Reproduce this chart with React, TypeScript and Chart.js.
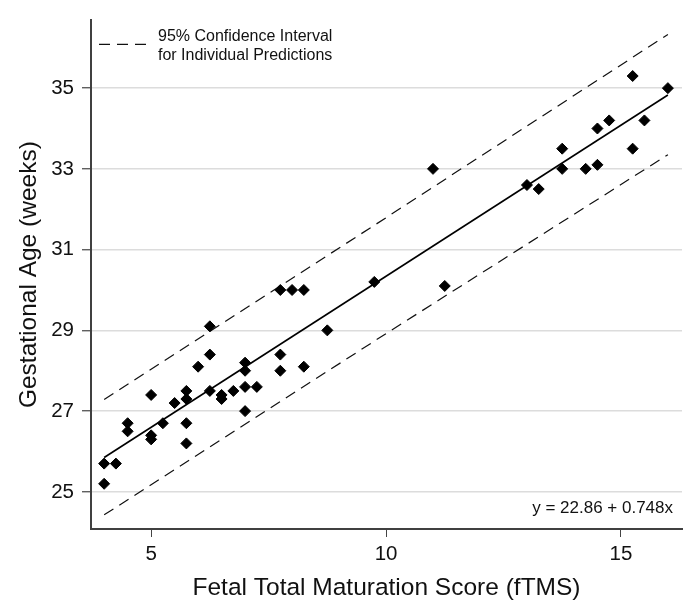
import React, { useEffect, useRef } from "react";
import { Chart, registerables } from "chart.js";

Chart.register(...registerables);

// Observed data: fetal total maturation score vs gestational age
const fTMS: number[] = [
  4.0, 4.0, 4.25, 4.5, 4.5, 5.0, 5.0, 5.0, 5.25, 5.5, 5.75, 5.75, 5.75, 5.75,
  6.0, 6.25, 6.25, 6.25, 6.5, 6.5, 6.75, 7.0, 7.0, 7.0, 7.0, 7.25, 7.75, 7.75,
  7.75, 8.0, 8.25, 8.25, 8.75, 9.75, 11.0, 11.25, 13.0, 13.25, 13.75, 13.75,
  14.25, 14.5, 14.5, 14.75, 15.25, 15.25, 15.5, 16.0,
];
const gestAge: number[] = [
  25.7, 25.2, 25.7, 26.7, 26.5, 27.4, 26.4, 26.3, 26.7, 27.2, 27.5, 27.3, 26.7, 26.2,
  28.1, 29.1, 28.4, 27.5, 27.4, 27.3, 27.5, 28.2, 28.0, 27.6, 27.0, 27.6, 28.4, 28.0,
  30.0, 30.0, 30.0, 28.1, 29.0, 30.2, 33.0, 30.1, 32.6, 32.5, 33.5, 33.0,
  33.0, 34.0, 33.1, 34.2, 35.3, 33.5, 34.2, 35.0,
];

// Fitted line y = 22.86 + 0.748x
const fitX: number[] = [4, 16];
const fitY: number[] = [25.85, 34.83];

// 95% prediction interval bounds
const ciX: number[] = [4, 10, 16];
const ciUpper: number[] = [27.29, 31.79, 36.33];
const ciLower: number[] = [24.43, 28.92, 33.35];

const xTicks: number[] = [5, 10, 15];
const yTicks: number[] = [25, 27, 29, 31, 33, 35];

const xTitle = "Fetal Total Maturation Score (fTMS)";
const yTitle = "Gestational Age (weeks)";
const legendLines = ["95% Confidence Interval", "for Individual Predictions"];
const equationText = "y = 22.86 + 0.748x";

const FONT = "'Liberation Sans', Arial, Helvetica, sans-serif";
const DASH = [11, 7];

const zip = (xs: number[], ys: number[]) => xs.map((x, i) => ({ x, y: ys[i] }));

const annotationsPlugin = {
  id: "annotations",
  afterDraw(chart: any) {
    const { ctx, chartArea } = chart;
    ctx.save();
    // legend
    const ly = chartArea.top + 24;
    ctx.strokeStyle = "#111";
    ctx.lineWidth = 1.2;
    ctx.setLineDash(DASH);
    ctx.beginPath();
    ctx.moveTo(chartArea.left + 8, ly);
    ctx.lineTo(chartArea.left + 57, ly);
    ctx.stroke();
    ctx.setLineDash([]);
    ctx.fillStyle = "#111";
    ctx.font = `16px ${FONT}`;
    ctx.textAlign = "left";
    ctx.textBaseline = "middle";
    ctx.fillText(legendLines[0], chartArea.left + 67, chartArea.top + 16);
    ctx.fillText(legendLines[1], chartArea.left + 67, chartArea.top + 35);
    // equation
    ctx.font = `17px ${FONT}`;
    ctx.textAlign = "right";
    ctx.fillText(equationText, chartArea.right - 9, chartArea.bottom - 21);
    ctx.restore();
  },
};

export default function App() {
  const canvasRef = useRef<HTMLCanvasElement | null>(null);

  useEffect(() => {
    if (!canvasRef.current) return;
    const chart = new Chart(canvasRef.current, {
      type: "scatter",
      data: {
        datasets: [
          {
            label: "Observed",
            data: zip(fTMS, gestAge),
            pointStyle: "rectRot",
            pointRadius: 5.5,
            backgroundColor: "#000",
            borderColor: "#000",
            borderWidth: 1,
            showLine: false,
          } as any,
          {
            label: "Fit",
            type: "line",
            data: zip(fitX, fitY),
            borderColor: "#000",
            borderWidth: 1.6,
            pointRadius: 0,
            fill: false,
          } as any,
          {
            label: "Upper",
            type: "line",
            data: zip(ciX, ciUpper),
            borderColor: "#111",
            borderWidth: 1.2,
            borderDash: DASH,
            pointRadius: 0,
            fill: false,
          } as any,
          {
            label: "Lower",
            type: "line",
            data: zip(ciX, ciLower),
            borderColor: "#111",
            borderWidth: 1.2,
            borderDash: DASH,
            pointRadius: 0,
            fill: false,
          } as any,
        ],
      },
      options: {
        responsive: false,
        animation: false,
        devicePixelRatio: 1,
        layout: { padding: { left: 0, top: 17, right: 18, bottom: 0 } },
        plugins: {
          legend: { display: false },
          tooltip: { enabled: false },
        },
        scales: {
          x: {
            type: "linear",
            min: 3.72,
            max: 16.3,
            afterBuildTicks: (s: any) => {
              s.ticks = xTicks.map((v) => ({ value: v }));
            },
            afterFit: (s: any) => {
              s.height = 87;
            },
            grid: {
              drawOnChartArea: false,
              drawTicks: true,
              tickLength: 8,
              tickColor: "#444",
              tickWidth: 1,
            },
            border: { display: true, color: "#404040", width: 2 },
            ticks: {
              font: { family: FONT, size: 20.5 },
              color: "#111",
              padding: 5,
              maxRotation: 0,
            },
            title: {
              display: true,
              text: xTitle,
              font: { family: FONT, size: 24.5 },
              color: "#111",
              padding: { top: 0, bottom: 13 },
            },
          },
          y: {
            type: "linear",
            min: 24.08,
            max: 36.68,
            afterBuildTicks: (s: any) => {
              s.ticks = yTicks.map((v) => ({ value: v }));
            },
            afterFit: (s: any) => {
              s.width = 91;
            },
            grid: {
              drawOnChartArea: true,
              color: "#dcdcdc",
              lineWidth: 1.5,
              drawTicks: true,
              tickLength: 9,
              tickColor: "#444",
              tickWidth: 1.2,
            },
            border: { display: true, color: "#404040", width: 2 },
            ticks: {
              font: { family: FONT, size: 20.5 },
              color: "#111",
              padding: 8,
            },
            title: {
              display: true,
              text: yTitle,
              font: { family: FONT, size: 24.5 },
              color: "#111",
              padding: { top: 15, bottom: 0 },
            },
          },
        },
      } as any,
      plugins: [annotationsPlugin],
    });
    return () => chart.destroy();
  }, []);

  return (
    <div style={{ position: "absolute", left: 0, top: 0, width: 700, height: 616, background: "#fff" }}>
      <canvas ref={canvasRef} width={700} height={616} />
    </div>
  );
}
